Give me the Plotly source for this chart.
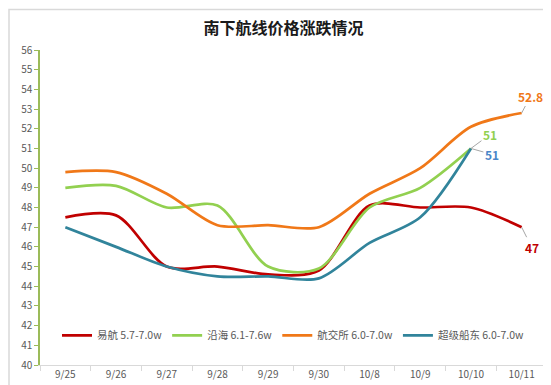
import plotly.graph_objects as go

categories = ["9/25", "9/26", "9/27", "9/28", "9/29", "9/30", "10/8", "10/9", "10/10", "10/11"]
yihang = [47.5, 47.6, 45.0, 45.0, 44.6, 44.8, 48.1, 48.0, 48.0, 47.0]
yanhai = [49.0, 49.1, 48.0, 48.1, 45.0, 44.9, 48.0, 49.0, 51.0, None]
hangjiaosuo = [49.8, 49.8, 48.7, 47.1, 47.1, 47.0, 48.7, 50.0, 52.1, 52.8]
chaoji = [47.0, 46.0, 45.0, 44.5, 44.5, 44.4, 46.2, 47.5, 51.0, None]

series = [
    ("易航 5.7-7.0w", yihang, "#c00000"),
    ("沿海 6.1-7.6w", yanhai, "#92d050"),
    ("航交所 6.0-7.0w", hangjiaosuo, "#f07818"),
    ("超级船东 6.0-7.0w", chaoji, "#31849b"),
]

font_family = "Noto Sans CJK SC, Noto Sans, sans-serif"

fig = go.Figure()
for name, vals, color in series:
    xs = [c for c, v in zip(categories, vals) if v is not None]
    ys = [v for v in vals if v is not None]
    fig.add_trace(go.Scatter(
        x=xs, y=ys, name=name, mode="lines",
        line=dict(color=color, width=2.7, shape="spline", smoothing=0.85),
    ))

def last_point(vals):
    for c, v in reversed(list(zip(categories, vals))):
        if v is not None:
            return c, v

labels = [
    (last_point(hangjiaosuo), "#f07818", 9, -17),
    (last_point(yihang), "#c00000", 10, 20),
    (last_point(yanhai), "#92d050", 19, -14),
    (last_point(chaoji), "#4a86c8", 21, 6),
]
for (c, v), color, ax, ay in labels:
    fig.add_annotation(
        x=c, y=v, text=f"<b>{v:g}</b>", showarrow=True, arrowhead=0,
        arrowwidth=1, arrowcolor="#a6a6a6", ax=ax, ay=ay,
        font=dict(color=color, size=12, family=font_family),
        xanchor="center", yanchor="middle",
    )

W, H = 551, 385
ml, mr, mt, mb = 32, 12, 42, 25
pw, ph = W - ml - mr, H - mt - mb

fig.add_shape(type="rect", xref="paper", yref="paper",
              x0=-(ml - 1) / pw, x1=1 + (mr - 1) / pw,
              y0=-(mb - 1) / ph, y1=1 + (mt - 1) / ph,
              line=dict(color="#d9d9d9", width=1.5), layer="below")

fig.update_layout(
    width=W, height=H,
    margin=dict(l=ml, r=mr, t=mt, b=mb),
    paper_bgcolor="white", plot_bgcolor="white",
    title=dict(text="<b>南下航线价格涨跌情况</b>", x=0.5, xanchor="center",
               y=1 - 20 / H, yanchor="middle",
               font=dict(size=16, color="#1a1a1a", family=font_family)),
    font=dict(family=font_family, color="#595959", size=10),
    showlegend=True,
    legend=dict(orientation="h", x=0.5, xanchor="center", y=(360 - 330) / ph,
                yanchor="middle", bgcolor="rgba(0,0,0,0)",
                font=dict(size=10.5, color="#595959", family=font_family),
                itemwidth=30, tracegroupgap=0),
    xaxis=dict(type="category", categoryorder="array", categoryarray=categories,
               range=[-0.5, len(categories) - 0.5], tickson="boundaries",
               ticks="outside", ticklen=5, tickcolor="#d9d9d9",
               showline=True, linecolor="#d9d9d9", linewidth=1,
               showgrid=False, zeroline=False,
               tickfont=dict(size=10, color="#595959")),
    yaxis=dict(range=[40, 56], dtick=1, tick0=40,
               ticks="outside", ticklen=4, tickcolor="#9bbb59",
               showline=True, linecolor="#9bbb59", linewidth=1.5,
               showgrid=False, zeroline=False,
               tickfont=dict(size=10, color="#595959")),
)

fig.write_html("out.html")
